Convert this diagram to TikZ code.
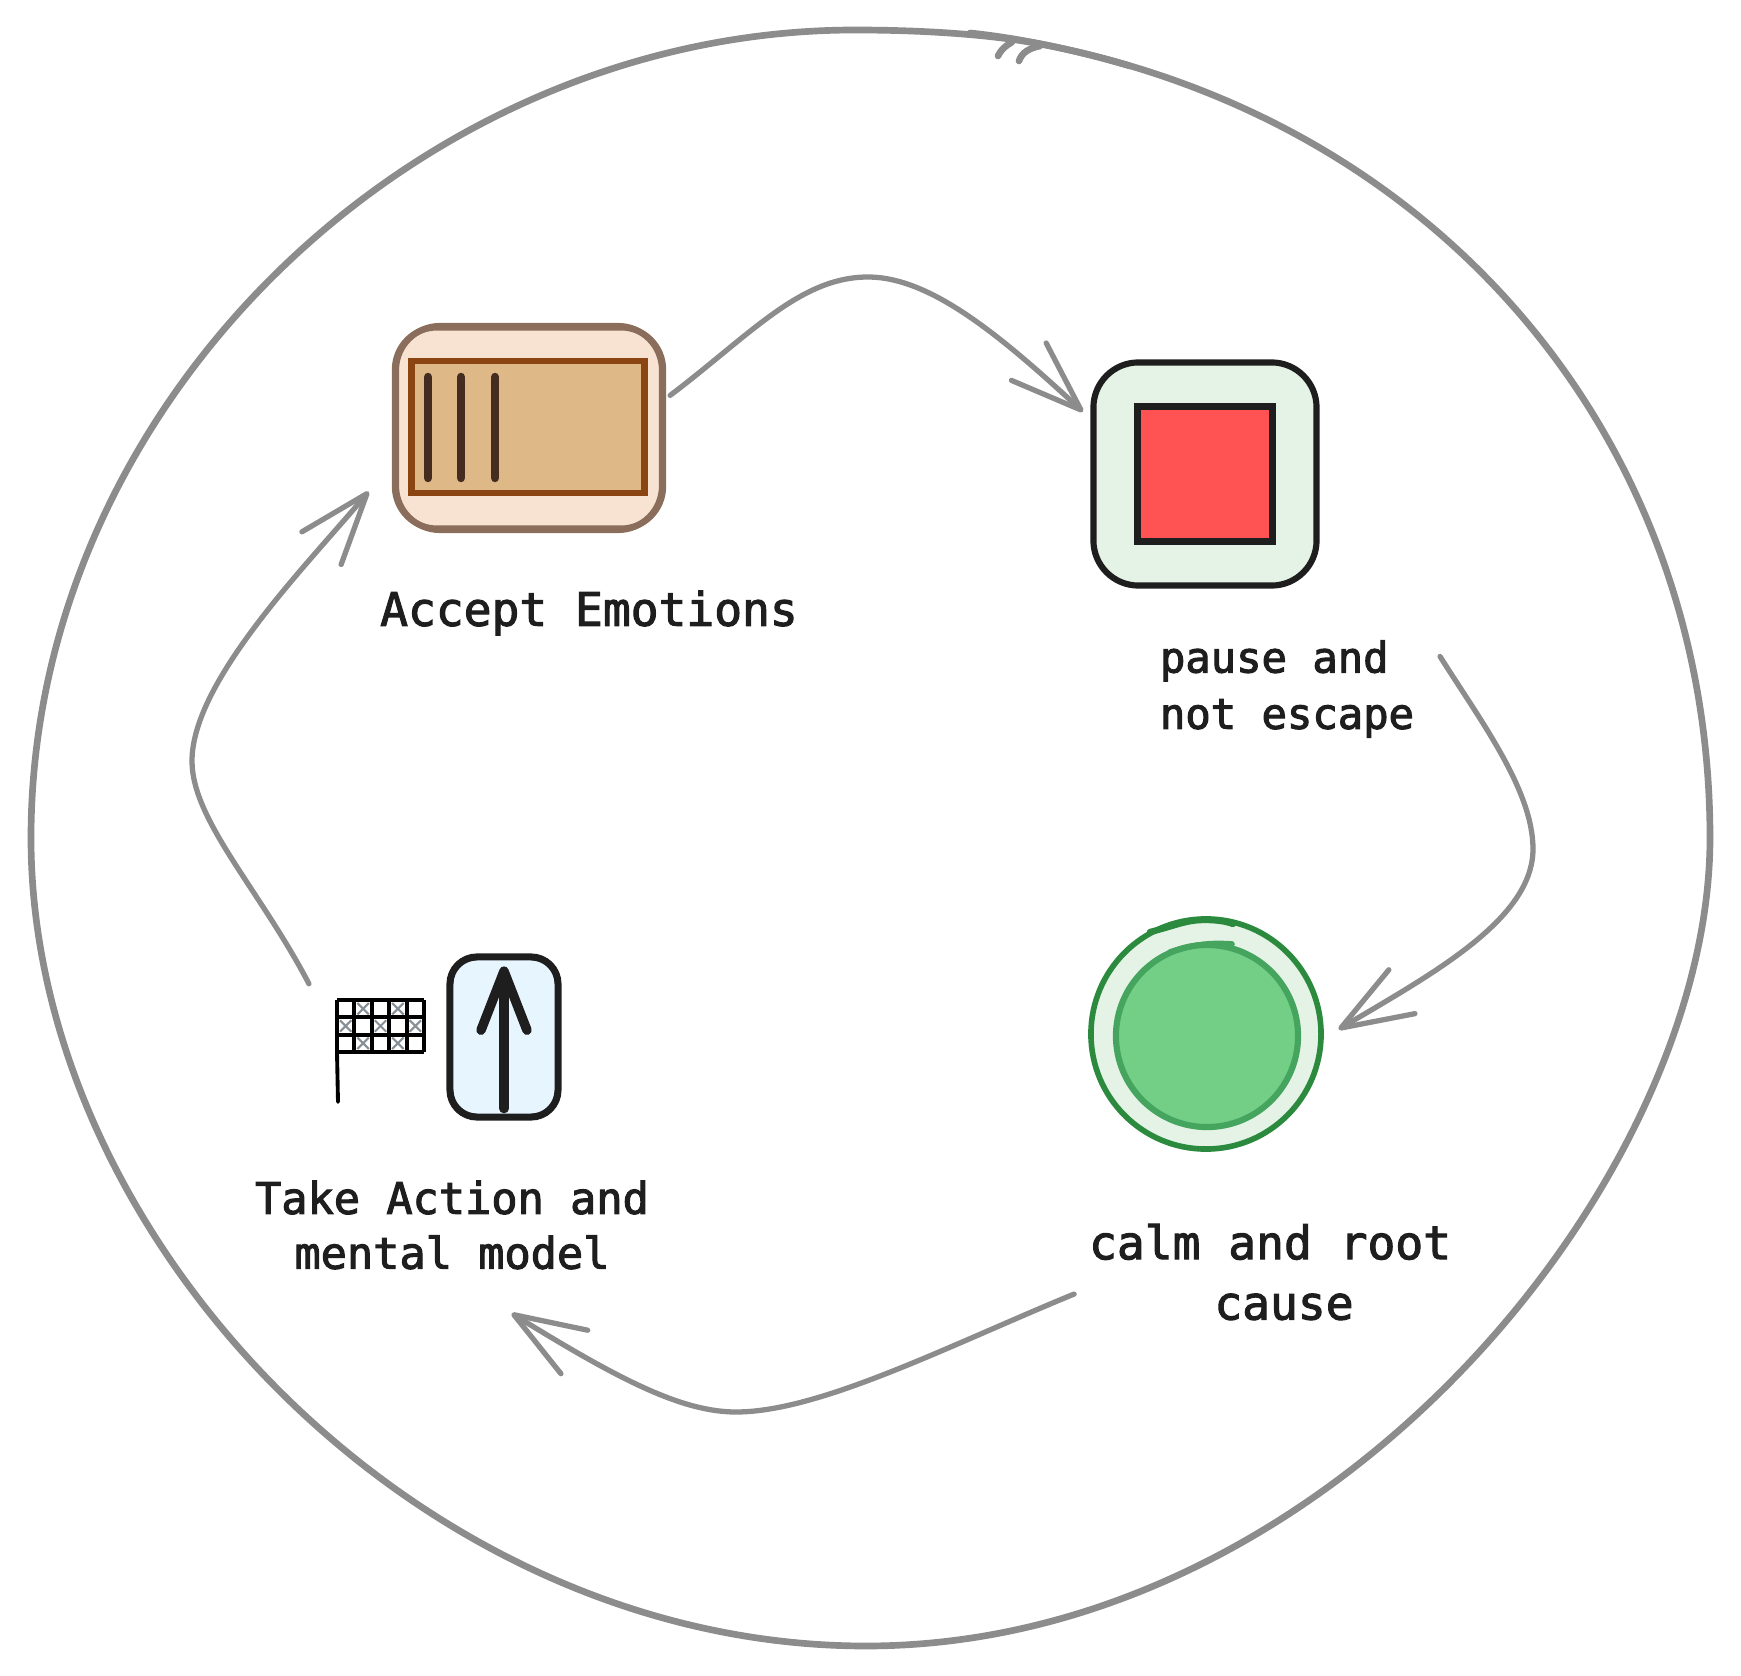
\documentclass[tikz,border=0pt]{standalone}
\usepackage{fontspec}
\setmonofont{DejaVu Sans Mono}
\usepackage{tikz}
\usetikzlibrary{arrows.meta}
\definecolor{loopgray}{HTML}{8C8C8C}
\definecolor{inkblack}{HTML}{1E1E1E}
\definecolor{acceptedge}{HTML}{8A6D5A}
\definecolor{acceptfill}{HTML}{F8E3D3}
\definecolor{shelfedge}{HTML}{8B4513}
\definecolor{shelffill}{HTML}{DEB887}
\definecolor{bardark}{HTML}{442D20}
\definecolor{palegreen}{HTML}{E4F3E6}
\definecolor{stopred}{HTML}{FF5252}
\definecolor{calmedge}{HTML}{2B8A3E}
\definecolor{calmring}{HTML}{45A45D}
\definecolor{calmfill}{HTML}{72CF85}
\definecolor{actionfill}{HTML}{E7F5FF}
\definecolor{crossgray}{HTML}{868E96}
\tikzset{
    flow/.style={draw=loopgray, line width=1.5pt, line cap=round, line join=round,
        -{Straight Barb[round, length=7.1mm, width=5.1mm, line width=1.5pt]}},
    caption/.style={font=\ttfamily\fontsize{#1}{#1}\selectfont, text=inkblack, inner sep=0pt,
        execute at begin node={\special{pdf:code q 2 Tr 0.3 w}},
        execute at end node={\special{pdf:code Q}}},
    loopline/.style={draw=loopgray, line width=1.9pt, line cap=round},
}
\begin{document}
\begin{tikzpicture}[x=0.01cm, y=-0.01cm, line width=1.75pt]

    \useasboundingbox (0,0) rectangle (1741,1676);

    % Outer loop
    \draw[loopline] (1035,43) .. controls (1440,118) and (1710,440) .. (1710,838)
        .. controls (1710,1180) and (1330,1646) .. (866,1646)
        .. controls (420,1646) and (31,1240) .. (31,838)
        .. controls (31,400) and (420,30) .. (855,30)
        .. controls (920,30) and (985,34) .. (1035,43);
    \draw[loopline] (970,33) .. controls (1010,37) and (1070,48) .. (1130,66);
    \draw[loopline] (998,56) .. controls (1002,48) and (1006,46) .. (1012,42);
    \draw[loopline] (1019,61) .. controls (1022,52) and (1030,48) .. (1040,46);

    % Accept Emotions
    \node[draw=acceptedge, fill=acceptfill, rounded corners=0.42cm, minimum width=2.68cm, minimum height=2.01cm,
        inner sep=0pt, outer sep=2pt] (accept) at (529,428) {};
    \draw[acceptedge, rounded corners=0.44cm] (396,326) rectangle (662,530);
    \node[draw=shelfedge, fill=shelffill, minimum width=2.33cm, minimum height=1.32cm, inner sep=0pt] (shelf) at (528,427) {};
    \foreach \barx in {428,461,495}
        \draw[bardark, line width=2.4pt, line cap=round] (\barx,377) -- (\barx,478);
    \node[caption=13.15, anchor=center] (acceptlabel) at (589,613) {Accept Emotions};

    % pause and not escape
    \node[draw=inkblack, fill=palegreen, rounded corners=0.45cm, minimum width=2.23cm, minimum height=2.23cm,
        inner sep=0pt, outer sep=3pt] (pause) at (1205,474) {};
    \node[draw=inkblack, fill=stopred, minimum width=1.35cm, minimum height=1.35cm, inner sep=0pt] (stop) at (1205,474) {};
    \node[caption=12, align=left, outer sep=0.26cm] (pauselabel) at (1287,689) {pause and\\[4pt]not escape};

    % calm and root cause
    \node[circle, draw=calmedge, fill=palegreen, minimum size=2.3cm, inner sep=0pt, outer sep=5pt, line width=1.6pt] (calm) at (1206,1034) {};
    \draw[calmedge, line width=1.8pt, line cap=round] (1150,932) .. controls (1175,926) and (1185,920) .. (1205,920) .. controls (1215,920) and (1225,921) .. (1233,924);
    \node[circle, draw=calmring, fill=calmfill, minimum size=1.82cm, inner sep=0pt] (calmcore) at (1207,1036) {};
    \draw[calmring, line width=1.6pt, line cap=round] (1170,952) .. controls (1190,946) and (1205,942) .. (1232,944);
    \node[caption=13.15, align=center, outer sep=0.15cm] (calmlabel) at (1284,1272) {calm and root\phantom{x}\\[4pt]cause};

    % Take Action and mental model
    \node[minimum width=0.87cm, minimum height=1.03cm, inner sep=0pt, outer sep=0.285cm] (flag) at (381,1051) {};
    \begin{scope}[shift={(337,1000)}, line width=1.1pt]
        \foreach \col/\row in {1/0,3/0,0/1,2/1,4/1,1/2,3/2}
            \draw[crossgray, line width=0.6pt] (\col*17.4+3,\row*17.3+3) -- +(11.4,11.4) (\col*17.4+14.4,\row*17.3+3) -- +(-11.4,11.4);
        \foreach \col in {0,...,5}
            \draw (\col*17.4,0) -- (\col*17.4,52);
        \foreach \row in {0,...,3}
            \draw (0,\row*17.3) -- (87,\row*17.3);
        \draw[line cap=round] (0,52) -- (1,102);
    \end{scope}
    \node[draw=inkblack, fill=actionfill, rounded corners=0.27cm, minimum width=1.08cm, minimum height=1.6cm, inner sep=0pt, line width=2pt] (action) at (504,1037) {};
    \draw[inkblack, line width=2.7pt, line cap=round, line join=round, -{Straight Barb[round, length=5.9mm, width=4.6mm, line width=2.7pt]},
        shorten <=0.12cm, shorten >=0.13cm] (action.south) -- (action.north);
    \node[caption=12.4, align=center, outer sep=0.44cm] (actionlabel) at (452,1225) {Take Action and\\[3.2pt]mental model};

    % Connectors
    \draw[flow] (accept.13) .. controls (750,335) and (800,277) .. (868,277) .. controls (930,277) and (1000,335) .. (pause.153);
    \draw[flow] (pauselabel.12) .. controls (1480,720) and (1533,790) .. (1533,849) .. controls (1533,920) and (1430,975) .. (calm.2);
    \draw[flow] (calmlabel.186) .. controls (950,1345) and (820,1412) .. (736,1412) .. controls (680,1412) and (615,1377) .. (actionlabel.-56);
    \draw[flow, shorten >=0.3cm] (flag.137) .. controls (260,890) and (192,820) .. (192,761) .. controls (192,680) and (310,562) .. (accept.196);

\end{tikzpicture}
\end{document}
